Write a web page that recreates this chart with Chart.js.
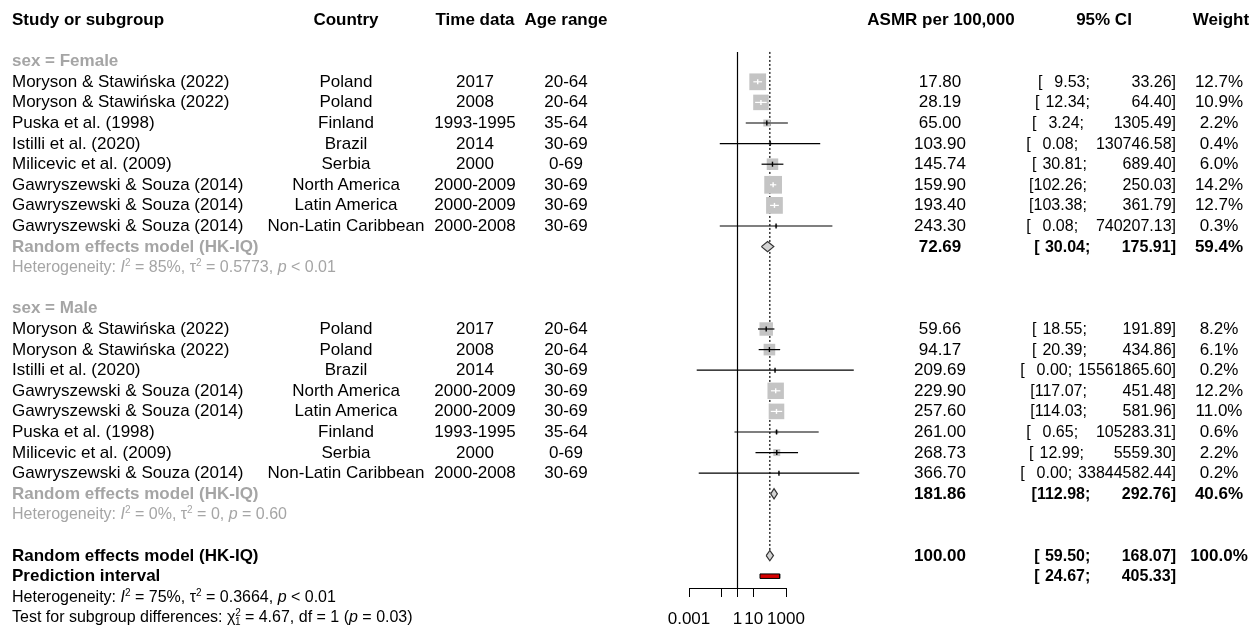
<!DOCTYPE html>
<html>
<head>
<meta charset="utf-8">
<script src="https://cdn.jsdelivr.net/npm/chart.js@4.4.1/dist/chart.umd.min.js"></script>
<style>
  html, body { margin: 0; padding: 0; background: #fff; }
  #wrap { position: relative; width: 1251px; height: 628px; overflow: hidden;
          font-family: 'Liberation Sans', Arial, Helvetica, sans-serif; color: #000; }
  #wrap canvas { position: absolute; left: 0; top: 0; }
  .t { position: absolute; white-space: pre; font-size: 17px; line-height: 20px; }
  .b { font-weight: bold; }
  .g { color: #a5a5a5; }
  .s { font-size: 16px; }
  .ci { font-size: 16px; word-spacing: 1.5px; }
  .ci.b { word-spacing: 0.8px; }
  .t sup { font-size: 10px; vertical-align: 6px; line-height: 0; }
  .t sub { font-size: 10px; vertical-align: -3px; line-height: 0; }
</style>
</head>
<body>
<div id="wrap"><canvas id="forest" width="1251" height="628"></canvas></div>
<script>
// ── Data ──────────────────────────────────────────────────
const femaleStudy   = ['Moryson & Stawińska (2022)', 'Moryson & Stawińska (2022)', 'Puska et al. (1998)', 'Istilli et al. (2020)',
                       'Milicevic et al. (2009)', 'Gawryszewski & Souza (2014)', 'Gawryszewski & Souza (2014)', 'Gawryszewski & Souza (2014)'];
const femaleCountry = ['Poland', 'Poland', 'Finland', 'Brazil', 'Serbia', 'North America', 'Latin America', 'Non-Latin Caribbean'];
const femaleTime    = ['2017', '2008', '1993-1995', '2014', '2000', '2000-2009', '2000-2009', '2000-2008'];
const femaleAge     = ['20-64', '20-64', '35-64', '30-69', '0-69', '30-69', '30-69', '30-69'];
const femaleEst     = [17.80, 28.19, 65.00, 103.90, 145.74, 159.90, 193.40, 243.30];
const femaleLow     = [9.53, 12.34, 3.24, 0.08, 30.81, 102.26, 103.38, 0.08];
const femaleHigh    = [33.26, 64.40, 1305.49, 130746.58, 689.40, 250.03, 361.79, 740207.13];
const femaleWeight  = [12.7, 10.9, 2.2, 0.4, 6.0, 14.2, 12.7, 0.3];

const maleStudy     = ['Moryson & Stawińska (2022)', 'Moryson & Stawińska (2022)', 'Istilli et al. (2020)', 'Gawryszewski & Souza (2014)',
                       'Gawryszewski & Souza (2014)', 'Puska et al. (1998)', 'Milicevic et al. (2009)', 'Gawryszewski & Souza (2014)'];
const maleCountry   = ['Poland', 'Poland', 'Brazil', 'North America', 'Latin America', 'Finland', 'Serbia', 'Non-Latin Caribbean'];
const maleTime      = ['2017', '2008', '2014', '2000-2009', '2000-2009', '1993-1995', '2000', '2000-2008'];
const maleAge       = ['20-64', '20-64', '30-69', '30-69', '30-69', '35-64', '0-69', '30-69'];
const maleEst       = [59.66, 94.17, 209.69, 229.90, 257.60, 261.00, 268.73, 366.70];
const maleLow       = [18.55, 20.39, 0.003, 117.07, 114.03, 0.65, 12.99, 0.004];
const maleHigh      = [191.89, 434.86, 15561865.60, 451.48, 581.96, 105283.31, 5559.30, 33844582.44];
const maleWeight    = [8.2, 6.1, 0.2, 12.2, 11.0, 0.6, 2.2, 0.2];

// pooled estimates: female, male, overall
const pooledEst     = [72.69, 181.86, 100.00];
const pooledLow     = [30.04, 112.98, 59.50];
const pooledHigh    = [175.91, 292.76, 168.07];
const pooledWeight  = [59.4, 40.6, 100.0];
const predInterval  = [24.67, 405.33];

const tickValues = [0.001, 0.1, 1, 10, 1000];
const tickLabels = ['0.001', '', '1', '10', '1000'];

// row layout (0 = header)
const femaleRows = [3, 4, 5, 6, 7, 8, 9, 10];
const maleRows   = [15, 16, 17, 18, 19, 20, 21, 22];
const pooledRows = [11, 23, 26];
const predRow    = 27;

const BOX_K = 4.7;       // square side (px) per sqrt(weight)
const DIAM_H = 0.25;     // diamond half height in rows
const PRED_H = 0.11;

const allEst    = femaleEst.concat(maleEst);
const allLow    = femaleLow.concat(maleLow);
const allHigh   = femaleHigh.concat(maleHigh);
const allWeight = femaleWeight.concat(maleWeight);
const allRows   = femaleRows.concat(maleRows);

// white CI line when the whole interval fits inside the square
function lineColor(i) {
  return (ctx) => {
    const xs = ctx.chart.scales.x;
    if (!xs) return '#000';
    const half = BOX_K * Math.sqrt(allWeight[i]) / 2;
    const p = xs.getPixelForValue(allEst[i]);
    const inside = xs.getPixelForValue(allLow[i]) >= p - half && xs.getPixelForValue(allHigh[i]) <= p + half;
    return inside ? '#ffffff' : '#000000';
  };
}

const datasets = [];

// reference lines
datasets.push({ data: [{ x: 1, y: 1.55 }, { x: 1, y: 27.58 }], showLine: true, borderColor: '#000', borderWidth: 1.2, pointRadius: 0, order: 9 });
datasets.push({ data: [{ x: pooledEst[2], y: 1.55 }, { x: pooledEst[2], y: pooledRows[2] - DIAM_H }], showLine: true,
                borderColor: '#000', borderWidth: 1.2, borderDash: [2, 2], pointRadius: 0, order: 9 });

// weight squares
datasets.push({
  data: allEst.map((e, i) => ({ x: e, y: allRows[i] })),
  pointStyle: 'rect',
  pointRadius: allWeight.map(w => BOX_K * Math.sqrt(w) / Math.SQRT2),
  backgroundColor: '#c4c4c4', borderWidth: 0, order: 8
});

// confidence interval lines + estimate ticks
allEst.forEach((e, i) => {
  datasets.push({
    data: [{ x: allLow[i], y: allRows[i] }, { x: allHigh[i], y: allRows[i] }],
    showLine: true, borderColor: lineColor(i), borderWidth: 1.2, pointRadius: 0, order: 7
  });
  datasets.push({
    data: [{ x: e, y: allRows[i] }],
    pointStyle: 'line', rotation: 90, pointRadius: 2.5,
    borderColor: lineColor(i), borderWidth: 1.4, order: 6
  });
});

// pooled diamonds
pooledEst.forEach((e, k) => {
  const r = pooledRows[k];
  datasets.push({
    data: [{ x: pooledLow[k], y: r }, { x: e, y: r - DIAM_H }, { x: pooledHigh[k], y: r }, { x: e, y: r + DIAM_H }, { x: pooledLow[k], y: r }],
    showLine: true, fill: 'shape', backgroundColor: '#d4d4d4', borderColor: '#333', borderWidth: 1.2, pointRadius: 0, order: 2
  });
});

// prediction interval bar
datasets.push({
  data: [{ x: predInterval[0], y: predRow - PRED_H }, { x: predInterval[1], y: predRow - PRED_H },
         { x: predInterval[1], y: predRow + PRED_H }, { x: predInterval[0], y: predRow + PRED_H },
         { x: predInterval[0], y: predRow - PRED_H }],
  showLine: true, fill: 'shape', backgroundColor: '#d40000', borderColor: '#000', borderWidth: 1, pointRadius: 0, order: 1
});

datasets.forEach(d => { d.clip = false; d.tension = 0; });

const chart = new Chart(document.getElementById('forest'), {
  type: 'scatter',
  data: { datasets },
  options: {
    responsive: false,
    animation: false,
    events: [],
    layout: { padding: { left: 689, right: 465, top: 20, bottom: 0 } },
    plugins: { legend: { display: false }, tooltip: { enabled: false } },
    scales: {
      x: {
        type: 'logarithmic',
        min: 0.001, max: 1000,
        afterBuildTicks: s => { s.ticks = tickValues.map(v => ({ value: v })); },
        afterFit: s => { s.height = 40; },
        ticks: {
          autoSkip: false, maxRotation: 0, padding: 12, color: '#000',
          font: { family: "'Liberation Sans', Arial, sans-serif", size: 17 },
          callback: v => tickLabels[tickValues.indexOf(v)]
        },
        grid: { drawOnChartArea: false, drawTicks: true, tickLength: 9, color: '#000', lineWidth: 1 },
        border: { display: true, color: '#000', width: 1 }
      },
      y: { type: 'linear', display: false, reverse: true, min: 0, max: 568 / 20.6 }
    }
  }
});

// ── Text columns placed on the row positions of the y scale ──
const wrap = document.getElementById('wrap');
const yScale = chart.scales.y;
function put(text, x, row, align, cls, html) {
  const d = document.createElement('div');
  d.className = 't ' + (cls || '');
  if (html) d.innerHTML = text; else d.textContent = text;
  d.style.top = (yScale.getPixelForValue(row) - 10) + 'px';
  d.style.left = x + 'px';
  if (align === 'c') d.style.transform = 'translateX(-50%)';
  if (align === 'r') d.style.transform = 'translateX(-100%)';
  wrap.appendChild(d);
}
const fmtCI = (lo, hi) => '[' + lo.toFixed(2).padStart(6) + '; ' + hi.toFixed(2).padStart(11) + ']';

const X_STUDY = 12, X_COUNTRY = 346, X_TIME = 475, X_AGE = 566, X_EST = 940, X_CI = 1176, X_W = 1219;

put('Study or subgroup', X_STUDY, 0, 'l', 'b');
put('Country', X_COUNTRY, 0, 'c', 'b');
put('Time data', X_TIME, 0, 'c', 'b');
put('Age range', X_AGE, 0, 'c', 'b');
put('ASMR per 100,000', X_EST + 1, 0, 'c', 'b');
put('95% CI', 1104, 0, 'c', 'b');
put('Weight', 1221, 0, 'c', 'b');

put('sex = Female', X_STUDY, 2, 'l', 'b g');
put('sex = Male', X_STUDY, 14, 'l', 'b g');

function studyRows(study, country, time, age, est, low, high, w, rows) {
  rows.forEach((r, i) => {
    put(study[i], X_STUDY, r, 'l');
    put(country[i], X_COUNTRY, r, 'c');
    put(time[i], X_TIME, r, 'c');
    put(age[i], X_AGE, r, 'c');
    put(est[i].toFixed(2), X_EST, r, 'c');
    put(fmtCI(low[i], high[i]), X_CI, r, 'r', 'ci');
    put(w[i].toFixed(1) + '%', X_W, r, 'c');
  });
}
studyRows(femaleStudy, femaleCountry, femaleTime, femaleAge, femaleEst, femaleLow, femaleHigh, femaleWeight, femaleRows);
studyRows(maleStudy, maleCountry, maleTime, maleAge, maleEst, maleLow, maleHigh, maleWeight, maleRows);

pooledRows.forEach((r, k) => {
  put('Random effects model (HK-IQ)', X_STUDY, r, 'l', k < 2 ? 'b g' : 'b');
  put(pooledEst[k].toFixed(2), X_EST, r, 'c', 'b');
  put(fmtCI(pooledLow[k], pooledHigh[k]), X_CI, r, 'r', 'b ci');
  put(pooledWeight[k].toFixed(1) + '%', X_W, r, 'c', 'b');
});
put('Prediction interval', X_STUDY, predRow, 'l', 'b');
put(fmtCI(predInterval[0], predInterval[1]), X_CI, predRow, 'r', 'b ci');

put('Heterogeneity: <i>I</i><sup>2</sup> = 85%, τ<sup>2</sup> = 0.5773, <i>p</i> &lt; 0.01', X_STUDY, 12, 'l', 's g', true);
put('Heterogeneity: <i>I</i><sup>2</sup> = 0%, τ<sup>2</sup> = 0, <i>p</i> = 0.60', X_STUDY, 24, 'l', 's g', true);
put('Heterogeneity: <i>I</i><sup>2</sup> = 75%, τ<sup>2</sup> = 0.3664, <i>p</i> &lt; 0.01', X_STUDY, 28, 'l', 's', true);
put('Test for subgroup differences: χ<sup>2</sup><sub style="margin-left:-6px">1</sub> = 4.67, df = 1 (<i>p</i> = 0.03)', X_STUDY, 29, 'l', 's', true);
</script>
</body>
</html>
